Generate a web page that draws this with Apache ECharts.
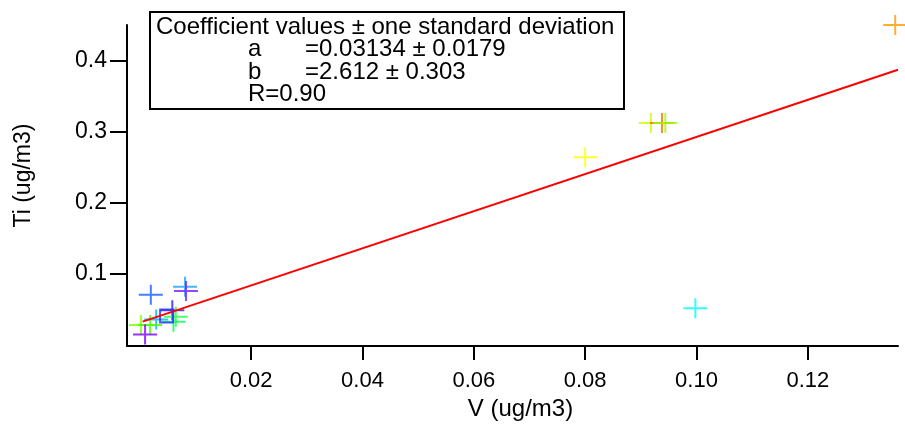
<!DOCTYPE html>
<html>
<head>
<meta charset="utf-8">
<script src="https://cdn.jsdelivr.net/npm/echarts@6/dist/echarts.min.js"></script>
<style>
html,body{margin:0;padding:0;background:#fff;}
#chart{width:905px;height:426px;}
</style>
</head>
<body>
<div id="chart"></div>
<script>
// ---- data ----
const pointX = [0.1357, 0.0998, 0.0800, 0.0918, 0.0938, 0.0944,
                0.00198, 0.00813, 0.00830, 0.00584, 0.00294, 0.00647, 0.00604, 0.0002, 0.00185, 0.00095];
const pointY = [0.450, 0.0516, 0.264, 0.312, 0.312, 0.312,
                0.0703, 0.0818, 0.0759, 0.0487, 0.0357, 0.0396, 0.0326, 0.028, 0.028, 0.0145];
const squareX = [0.00481];
const squareY = [0.0407];
const fitX = [0.0005, 0.1362];
const fitY = [0.0327, 0.387];
const xTicks = [0.02, 0.04, 0.06, 0.08, 0.10, 0.12];
const yTicks = [0.1, 0.2, 0.3, 0.4];
const boxLines = ['Coefficient values \u00b1 one standard deviation'];
const coefNames = ['a', 'b', 'R=0.90'];
const coefValues = ['=0.03134 \u00b1 0.0179', '=2.612 \u00b1 0.303', ''];

// ---- styles ----
const pointColors = ['#ff9a00', '#00ffff', '#ffff00', '#ccff00', '#ff6a00', '#99ff00',
                     '#1a5cff', '#1aa0ff', '#7a1aff', '#2020ff', '#00b4ff', '#20ff40', '#00ff60', '#80ff00', '#40ff00', '#8000ff'];
const FONT = '"Liberation Sans", Arial, sans-serif';
const plus = 'path://M11,0h2v9h11v2h-11v9h-2v-9h-11v-2h11z';
const BOXFONT = '24px ' + FONT;

const chart = echarts.init(document.getElementById('chart'));
const scatterData = pointX.map((x, i) => ({value: [x, pointY[i]], itemStyle: {color: pointColors[i]}}));

const graphic = [
  {type: 'rect', left: 149, top: 11, shape: {width: 474, height: 97},
   style: {fill: '#fff', stroke: '#000', lineWidth: 2}, z: 100}
];
graphic.push({type: 'text', left: 156, top: 15, z: 101,
  style: {text: boxLines[0], font: BOXFONT, fill: '#000'}});
coefNames.forEach((n, i) => {
  graphic.push({type: 'text', left: 248, top: 37.5 + i * 22.5, z: 101,
    style: {text: n, font: BOXFONT, fill: '#000'}});
  if (coefValues[i]) graphic.push({type: 'text', left: 305, top: 37.5 + i * 22.5, z: 101,
    style: {text: coefValues[i], font: BOXFONT, fill: '#000'}});
});

chart.setOption({
  animation: false,
  backgroundColor: '#fff',
  grid: {left: 127, right: 7, top: 25, bottom: 77, containLabel: false},
  xAxis: {
    type: 'value', min: -0.0023, max: 0.1362,
    name: 'V (ug/m3)', nameLocation: 'middle', nameGap: 50,
    nameTextStyle: {fontFamily: FONT, fontSize: 24, color: '#000', padding: [0, 0, 0, 16]},
    axisLine: {show: true, onZero: false, lineStyle: {color: '#000', width: 2}},
    axisTick: {show: true, inside: false, length: 14, customValues: xTicks, lineStyle: {color: '#000', width: 2}},
    axisLabel: {customValues: xTicks, margin: 24, fontFamily: FONT, fontSize: 22, color: '#000',
      formatter: v => v.toFixed(2)},
    splitLine: {show: false}
  },
  yAxis: {
    type: 'value', min: -0.0018, max: 0.450,
    name: 'Ti (ug/m3)', nameLocation: 'middle', nameGap: 92, nameRotate: 90,
    nameTextStyle: {fontFamily: FONT, fontSize: 23, color: '#000', padding: [0, 0, 0, 20]},
    axisLine: {show: true, onZero: false, lineStyle: {color: '#000', width: 2}},
    axisTick: {show: true, inside: false, length: 17, customValues: yTicks, lineStyle: {color: '#000', width: 2}},
    axisLabel: {customValues: yTicks, margin: 20, fontFamily: FONT, fontSize: 23, color: '#000',
      formatter: v => v.toFixed(1)},
    splitLine: {show: false}
  },
  graphic: graphic,
  series: [
    {type: 'scatter', data: scatterData, symbol: plus, symbolSize: [24, 20], z: 2},
    {type: 'scatter', data: squareX.map((x, i) => [x, squareY[i]]), symbol: 'rect', symbolSize: 13,
     itemStyle: {color: 'rgba(0,0,0,0)', borderColor: '#2a2aff', borderWidth: 2}, z: 3},
    {type: 'line', data: fitX.map((x, i) => [x, fitY[i]]), symbol: 'none',
     lineStyle: {color: '#ff0000', width: 2}, z: 4}
  ]
});
</script>
</body>
</html>
